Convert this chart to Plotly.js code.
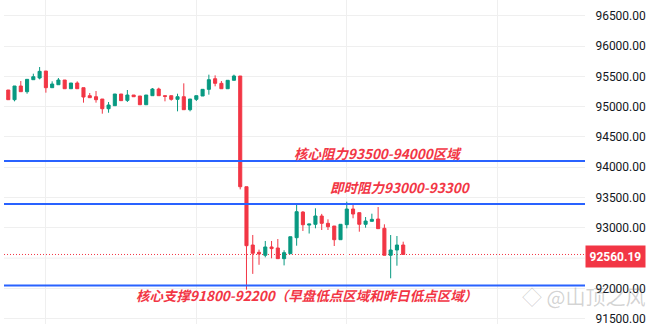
<!DOCTYPE html>
<html>
<head>
<meta charset="utf-8">
<script src="https://cdn.plot.ly/plotly-3.0.1.min.js"></script>
<style>html,body{margin:0;padding:0;background:#fff;}#chart{width:656px;height:324px;}</style>
</head>
<body>
<div id="chart"></div>
<script>
const idx = Array.from({length: 65}, (_, i) => i);
const openP = [95262,95274,95114,95340,95246,95444,95472,95587,95312,95361,95439,95295,95389,95312,95180,95163,95125,94965,95015,95208,95103,95191,95175,95031,95180,95290,95180,95180,95120,95163,94949,95120,95175,95285,95460,95384,95295,95434,95505,93678,92716,92596,92547,92684,92667,92491,92573,92837,93260,93045,93058,93195,93074,93030,92804,93052,93310,93250,93058,93107,93145,92992,92547,92634,92716];
const highP = [95275,95274,95340,95422,95450,95543,95653,95587,95417,95472,95439,95389,95417,95312,95224,95257,95125,95076,95208,95208,95274,95191,95175,95191,95307,95312,95180,95180,95213,95384,95125,95180,95285,95527,95516,95422,95434,95527,95505,93678,92882,92640,92783,92783,92815,92630,92853,93388,93275,93062,93322,93230,93140,93030,93058,93431,93388,93250,93178,93233,93343,93058,92881,92865,92771];
const lowP = [95262,95114,95087,95246,95213,95444,95450,95230,95312,95361,95295,95295,95295,95065,95147,95065,94883,94899,95015,95098,95076,95163,95031,95031,95180,95180,95087,95098,94922,94949,94922,95092,95175,95197,95335,95295,95295,95434,93634,91980,92240,92390,92513,92497,92491,92380,92573,92705,92948,92906,92992,92964,92964,92700,92804,92992,93157,92936,93002,93107,92986,92547,92167,92375,92560.19];
const closeP = [95275,95114,95340,95246,95450,95493,95582,95312,95373,95439,95295,95389,95295,95158,95147,95114,94965,95026,95208,95098,95191,95163,95031,95191,95290,95180,95169,95120,95163,94949,95125,95180,95285,95444,95384,95295,95434,95505,93678,92705,92580,92568,92684,92657,92491,92590,92853,93266,93051,93062,93195,93074,93018,92804,93058,93310,93228,93058,93112,93140,92986,92547,92634,92716,92560.19];

const yTicks = [91500, 92000, 93000, 93500, 94000, 94500, 95000, 95500, 96000, 96500];
const gridTicks = [92500];
const levelLines = [94102, 93393, 92048];
const lastPrice = 92560.19;
const noteTexts = ['核心阻力93500-94000区域', '即时阻力93000-93300', '核心支撑91800-92200（早盘低点区域和昨日低点区域）'];
const noteX = [60.0, 63.6, 48.6];
const noteY = [94234, 93680, 91892];
const watermark = '◇ @山顶之风';

const trace = {
  type: 'candlestick',
  x: idx, open: openP, high: highP, low: lowP, close: closeP,
  increasing: {line: {color: '#089981', width: 1}, fillcolor: '#089981'},
  decreasing: {line: {color: '#f23645', width: 1}, fillcolor: '#f23645'},
  whiskerwidth: 0,
  hoverinfo: 'skip'
};

const shapes = gridTicks.map(v => ({
  type: 'line', xref: 'paper', x0: 0, x1: 1, yref: 'y', y0: v, y1: v,
  line: {color: '#efefef', width: 1}, layer: 'below'
}));
levelLines.forEach(v => shapes.push({
  type: 'line', xref: 'paper', x0: 0, x1: 1, yref: 'y', y0: v, y1: v,
  line: {color: '#2962ff', width: 2}, layer: 'above'
}));
shapes.push({
  type: 'line', xref: 'paper', x0: 0, x1: 1, yref: 'y', y0: lastPrice, y1: lastPrice,
  line: {color: '#f23645', width: 1, dash: '1px,2px'}, layer: 'below'
});

const annotations = noteTexts.map((t, i) => ({
  x: noteX[i], y: noteY[i], xref: 'x', yref: 'y', text: '<b><i>' + t + '</i></b>',
  showarrow: false, xanchor: 'center', yanchor: 'middle',
  font: {family: 'Noto Sans CJK SC, sans-serif', size: 13.5, color: '#f23645'}
}));
annotations.push({
  x: 1, y: lastPrice, xref: 'paper', yref: 'y', text: '<b>' + lastPrice.toFixed(2) + '</b>',
  showarrow: false, xanchor: 'left', yanchor: 'middle', xshift: 0, yshift: -2,
  bgcolor: '#f23645', borderpad: 3.5,
  font: {family: 'Roboto, sans-serif', size: 12, color: '#ffffff'}
});
annotations.push({
  x: 1.107, y: 0.085, xref: 'paper', yref: 'paper', text: watermark,
  showarrow: false, xanchor: 'right', yanchor: 'middle',
  font: {family: 'Noto Sans CJK SC, sans-serif', size: 20, color: 'rgba(120,120,120,0.33)'}
});

const layout = {
  width: 656, height: 324,
  margin: {l: 4, r: 71, t: 0, b: 0},
  paper_bgcolor: '#ffffff', plot_bgcolor: '#ffffff',
  showlegend: false,
  xaxis: {
    range: [0.32, 93.0], rangeslider: {visible: false},
    tickmode: 'array', tickvals: [7, 31, 55, 79], showticklabels: false,
    showgrid: true, gridcolor: '#efefef', zeroline: false, showline: false, ticks: ''
  },
  yaxis: {
    side: 'right', range: [91413, 96759],
    tickmode: 'array', tickvals: yTicks, tickformat: '.2f',
    ticklabeloverflow: 'allow',
    showgrid: true, gridcolor: '#efefef', zeroline: false, showline: false,
    ticks: 'outside', ticklen: 7, tickcolor: 'rgba(0,0,0,0)',
    tickfont: {family: 'Roboto, sans-serif', size: 12, color: '#131722'}
  },
  shapes: shapes,
  annotations: annotations
};

Plotly.newPlot('chart', [trace], layout, {displayModeBar: false, staticPlot: true});
</script>
</body>
</html>
